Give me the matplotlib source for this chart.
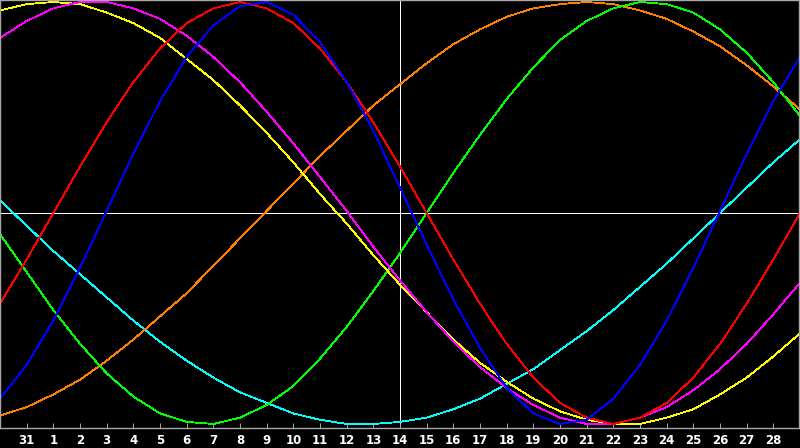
"""Biorhythm chart, seven cycles, one month window (31 .. 28)."""
import matplotlib
matplotlib.use("Agg")
import matplotlib.pyplot as plt

# day index 0..30 across the window
days = list(range(31))
tick_pos = list(range(1, 30))
tick_labels = ["31"] + [str(d) for d in range(1, 29)]
today_idx = 15  # vertical marker, under label "14"

# values, -1 .. 1
physical = [-0.88, -0.72, -0.51, -0.26, 0.01, 0.28, 0.53, 0.74, 0.89, 0.98, 1.00,
            0.94, 0.81, 0.62, 0.39, 0.12, -0.15, -0.41, -0.64, -0.83, -0.95,
            -1.00, -0.98, -0.88, -0.72, -0.51, -0.26, 0.01, 0.28, 0.53, 0.74]
emotional = [-0.43, -0.22, 0.00, 0.22, 0.43, 0.62, 0.78, 0.90, 0.97, 1.00, 0.97,
             0.90, 0.78, 0.62, 0.43, 0.22, 0.00, -0.22, -0.43, -0.62, -0.78,
             -0.90, -0.97, -1.00, -0.97, -0.90, -0.78, -0.62, -0.43, -0.22, 0.00]
intellectual = [-0.10, -0.28, -0.46, -0.62, -0.76, -0.87, -0.95, -0.99, -1.00, -0.97, -0.91,
                -0.82, -0.69, -0.54, -0.37, -0.19, 0.00, 0.19, 0.37, 0.54, 0.69,
                0.82, 0.91, 0.97, 1.00, 0.99, 0.95, 0.87, 0.76, 0.62, 0.46]
intuitive = [0.83, 0.91, 0.97, 1.00, 1.00, 0.97, 0.92, 0.84, 0.74, 0.62, 0.48,
             0.33, 0.17, 0.01, -0.16, -0.32, -0.47, -0.61, -0.73, -0.83, -0.91,
             -0.97, -1.00, -1.00, -0.97, -0.92, -0.84, -0.74, -0.62, -0.48, -0.33]
aesthetic = [0.96, 0.99, 1.00, 0.99, 0.95, 0.90, 0.83, 0.73, 0.63, 0.51, 0.38,
             0.24, 0.09, -0.05, -0.20, -0.34, -0.47, -0.60, -0.71, -0.80, -0.88,
             -0.94, -0.98, -1.00, -1.00, -0.97, -0.93, -0.86, -0.78, -0.68, -0.57]
awareness = [-0.96, -0.92, -0.86, -0.79, -0.70, -0.60, -0.49, -0.38, -0.25, -0.12, 0.01,
             0.14, 0.27, 0.39, 0.51, 0.61, 0.71, 0.80, 0.87, 0.93, 0.97,
             0.99, 1.00, 0.99, 0.96, 0.92, 0.86, 0.79, 0.70, 0.60, 0.49]
spiritual = [0.06, -0.06, -0.18, -0.29, -0.40, -0.51, -0.61, -0.70, -0.78, -0.85, -0.90,
             -0.95, -0.98, -1.00, -1.00, -0.99, -0.97, -0.93, -0.88, -0.81, -0.74,
             -0.65, -0.56, -0.46, -0.35, -0.24, -0.12, 0.00, 0.12, 0.24, 0.35]

series = [
    (spiritual, "#00ffff"),
    (awareness, "#ff8000"),
    (intellectual, "#00ff00"),
    (aesthetic, "#ffff00"),
    (intuitive, "#ff00ff"),
    (emotional, "#ff0000"),
    (physical, "#0000ff"),
]

fig = plt.figure(figsize=(8.0, 4.48), dpi=100, facecolor="black")
ax = fig.add_axes([0.0, 20 / 448, 799 / 800, 428 / 448], facecolor="black")

lw = 0.6
ax.axhline(0, color="white", lw=lw, antialiased=False, zorder=1)
ax.axvline(today_idx, color="white", lw=lw, antialiased=False, zorder=1)

for vals, col in series:
    ax.plot(days, vals, color=col, lw=lw, antialiased=False, zorder=2)

ax.set_xlim(0, 30 * 799 / 800)
ax.set_ylim(-1.019, 1.0095)
ax.set_yticks([])
ax.set_xticks(tick_pos)
ax.set_xticklabels(tick_labels, color="white", fontsize=8.5, fontweight="bold")
ax.tick_params(axis="x", direction="in", length=3.6, width=0.7, color="#a8a8a8", pad=4.5)

for side in ("top", "bottom", "left", "right"):
    ax.spines[side].set_color("#a8a8a8")
    ax.spines[side].set_linewidth(1)

fig.savefig("out.png", dpi=100, facecolor="black")
